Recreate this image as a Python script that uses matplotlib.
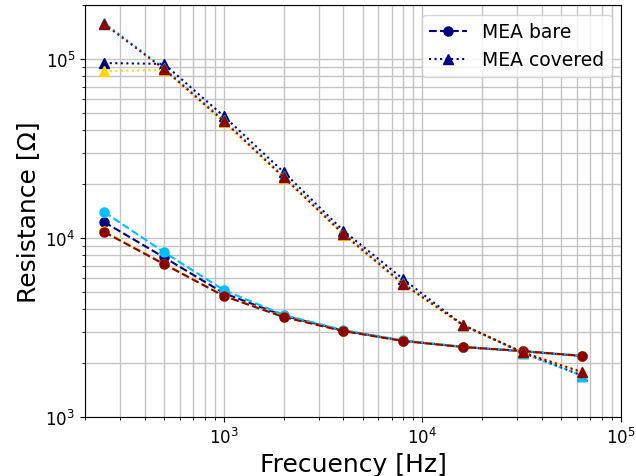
import matplotlib
matplotlib.use("Agg")
import matplotlib.pyplot as plt

freq = [250, 500, 1000, 2000, 4000, 8000, 16000, 32000, 64000]

# Bare electrodes (four channels)
bare_navy = [12280, 7800, 4920, 3680, 3040, 2670, 2460, 2330, 2190]
bare_cyan = [13960, 8340, 5120, 3720, 3060, 2680, 2470, 2340, 2195]
bare_gold = [10950, 7200, 4760, 3630, 3025, 2660, 2460, 2335, 2195]
bare_red = [10800, 7150, 4745, 3620, 3020, 2658, 2460, 2337, 2193]

# Covered electrodes (four channels)
cov_navy = [95000, 94000, 48000, 23380, 10990, 5900, 3266, 2290, 1701]
cov_cyan = [159000, 89000, 45500, 22200, 10600, 5600, 3266, 2270, 1701]
cov_gold = [85700, 87000, 44500, 21700, 10450, 5500, 3266, 2300, 1790]
cov_red = [156900, 88000, 45040, 21900, 10530, 5535, 3266, 2298, 1777]

colors = ["navy", "deepskyblue", "gold", "darkred"]
bare = [bare_navy, bare_cyan, bare_gold, bare_red]
covered = [cov_navy, cov_cyan, cov_gold, cov_red]

fig = plt.figure(figsize=(6.36, 4.77), dpi=100)
ax = fig.add_axes([0.1336, 0.1237, 0.8428, 0.8633])

for i, (c, b) in enumerate(zip(colors, bare)):
    ax.plot(freq, b, "--o", color=c, lw=1.5, ms=6.5,
            label="MEA bare" if i == 0 else None)
for i, (c, v) in enumerate(zip(colors, covered)):
    ax.plot(freq, v, ":^", color=c, lw=1.5, ms=6.5,
            label="MEA covered" if i == 0 else None)

ax.set_xscale("log")
ax.set_yscale("log")
ax.set_xlim(200, 1e5)
ax.set_ylim(1e3, 2e5)
ax.grid(True, which="both", color="#c4c4c4", lw=1)
ax.set_axisbelow(True)
ax.tick_params(labelsize=12)
ax.set_xlabel("Frecuency [Hz]", fontsize=18)
ax.set_ylabel("Resistance [Ω]", fontsize=18)
ax.legend(loc="upper right", fontsize=13.5)

fig.savefig("out.png", dpi=100)
